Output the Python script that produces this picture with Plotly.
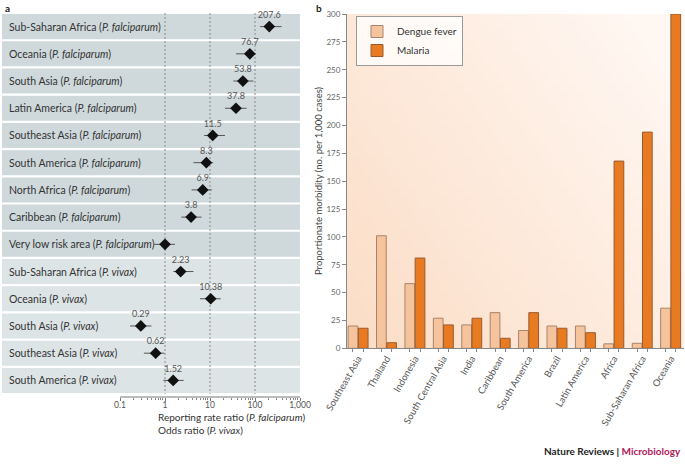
import math, zlib, struct, base64
import plotly.graph_objects as go

W, H = 685, 464

# ---------------- Panel a data ----------------
region_labels = [
    "Sub-Saharan Africa (<i>P. falciparum</i>)",
    "Oceania (<i>P. falciparum</i>)",
    "South Asia (<i>P. falciparum</i>)",
    "Latin America (<i>P. falciparum</i>)",
    "Southeast Asia (<i>P. falciparum</i>)",
    "South America (<i>P. falciparum</i>)",
    "North Africa (<i>P. falciparum</i>)",
    "Caribbean (<i>P. falciparum</i>)",
    "Very low risk area (<i>P. falciparum</i>)",
    "Sub-Saharan Africa (<i>P. vivax</i>)",
    "Oceania (<i>P. vivax</i>)",
    "South Asia (<i>P. vivax</i>)",
    "Southeast Asia (<i>P. vivax</i>)",
    "South America (<i>P. vivax</i>)",
]
ratio_values = [207.6, 76.7, 53.8, 37.8, 11.5, 8.3, 6.9, 3.8, 1.0, 2.23, 10.38, 0.29, 0.62, 1.52]
ratio_text = ["207.6", "76.7", "53.8", "37.8", "11.5", "8.3", "6.9", "3.8", "", "2.23", "10.38", "0.29", "0.62", "1.52"]
ci_lower = [129, 38, 33, 21.5, 7.4, 4.3, 3.9, 2.3, 0.57, 1.53, 6.0, 0.167, 0.34, 0.92]
ci_upper = [390, 105, 92, 65, 21.5, 11.8, 11.0, 6.5, 1.67, 4.3, 17.3, 0.5, 0.97, 2.6]
species = ["falciparum"] * 9 + ["vivax"] * 5
x_ticks_a = [0.1, 1, 10, 100, 1000]
x_ticktext_a = ["0.1", "1", "10", "100", "1,000"]
ref_lines = [1, 10, 100]

# ---------------- Panel b data ----------------
countries = ["Southeast Asia", "Thailand", "Indonesia", "South Central Asia", "India",
             "Caribbean", "South America", "Brazil", "Latin America", "Africa",
             "Sub-Saharan Africa", "Oceania"]
dengue = [20, 101, 58, 27, 21, 32, 16, 20, 20, 4, 4.5, 36]
malaria = [18, 5, 81, 21, 27, 9, 32, 18, 14, 168, 194, 300]
y_ticks_b = list(range(0, 301, 25))


def fx(px):
    return px / W


def fy(py):
    return 1 - py / H


# log axis range for panel a: 0.1 sits at px 120, one decade = 45 px, left edge px 2
xr0 = math.log10(0.1) - (120 - 2) / 45.0
xr1 = 3.0


def xfrac(v):
    return (math.log10(v) - xr0) / (xr1 - xr0)


minor_vals = [m * 10 ** e for e in range(-1, 3) for m in range(2, 10)]

fig = go.Figure()

fig.add_trace(go.Scatter(
    x=ratio_values, y=region_labels, mode="markers+text",
    text=ratio_text, textposition="top center",
    textfont=dict(size=9, color="#555"),
    marker=dict(symbol="diamond", size=9, color="#111"),
    error_x=dict(type="data", symmetric=False,
                 array=[u - v for u, v in zip(ci_upper, ratio_values)],
                 arrayminus=[v - l for v, l in zip(ratio_values, ci_lower)],
                 width=0, thickness=1, color="#555"),
    xaxis="x", yaxis="y", showlegend=False, cliponaxis=False, hoverinfo="x+y",
))

fig.add_trace(go.Bar(
    x=countries, y=dengue, name="Dengue fever",
    marker=dict(color="#f6c49c", line=dict(color="#a8836c", width=1)),
    xaxis="x2", yaxis="y2",
))
fig.add_trace(go.Bar(
    x=countries, y=malaria, name="Malaria",
    marker=dict(color="#e87a22", line=dict(color="#9b5a2e", width=1)),
    xaxis="x2", yaxis="y2",
))
# empty trace to carry the tick-mark overlay axis
fig.add_trace(go.Scatter(x=[], y=[], xaxis="x3", yaxis="y2", showlegend=False, hoverinfo="skip"))

shapes = []
for i, sp in enumerate(species):
    shapes.append(dict(type="rect", xref="x domain", yref="y", x0=0, x1=1,
                       y0=i - 0.5 + 0.04, y1=i + 0.5 - 0.04,
                       fillcolor="#cfd9dc" if sp == "falciparum" else "#dde4e6",
                       line=dict(width=0), layer="below"))
for v in ref_lines:
    f = xfrac(v)
    shapes.append(dict(type="line", xref="x domain", yref="y", x0=f, x1=f,
                       y0=-0.5, y1=len(region_labels) - 0.5,
                       line=dict(color="#8a8a8a", width=1, dash="2px,2px"), layer="below"))
shapes.append(dict(type="line", xref="x domain", yref="y domain", x0=xfrac(0.1), x1=1,
                   y0=0, y1=0, line=dict(color="#777", width=1)))


# gradient background image for panel b
def make_png(w, h, fn):
    raw = b""
    for r in range(h):
        row = bytearray([0])
        for c in range(w):
            row += bytes(fn(c / (w - 1), 1 - r / (h - 1)))
        raw += bytes(row)

    def chunk(t, d):
        c = struct.pack(">I", len(d)) + t + d
        return c + struct.pack(">I", zlib.crc32(t + d) & 0xffffffff)
    png = b"\x89PNG\r\n\x1a\n" + chunk(b"IHDR", struct.pack(">IIBBBBB", w, h, 8, 2, 0, 0, 0))
    png += chunk(b"IDAT", zlib.compress(raw)) + chunk(b"IEND", b"")
    return "data:image/png;base64," + base64.b64encode(png).decode()


c0 = (251, 221, 198)
c1 = (255, 247, 242)


def grad(u, v):
    t = min(1.0, max(0.0, 0.65 * u + 0.45 * v))
    return [int(round(a + (b - a) * t)) for a, b in zip(c0, c1)]


img = make_png(48, 32, grad)
bx0, bx1, by0, by1 = 347, 684, 14, 348.3

annotations = [
    dict(text="<b>a</b>", x=fx(3), y=fy(8), xref="paper", yref="paper",
         xanchor="left", yanchor="middle", showarrow=False, font=dict(size=10, color="#222")),
    dict(text="<b>b</b>", x=fx(314), y=fy(8), xref="paper", yref="paper",
         xanchor="left", yanchor="middle", showarrow=False, font=dict(size=10, color="#222")),
    dict(text="Reporting rate ratio (<i>P. falciparum</i>)<br>Odds ratio (<i>P. vivax</i>)",
         x=fx(156), y=fy(409), xref="paper", yref="paper", xanchor="left", yanchor="top",
         align="left", showarrow=False, font=dict(size=10, color="#333")),
    dict(text="Proportionate morbidity (no. per 1,000 cases)", textangle=-90,
         x=fx(318), y=fy(181), xref="paper", yref="paper", xanchor="center", yanchor="middle",
         showarrow=False, font=dict(size=9.5, color="#444")),
    dict(text="<b>Nature Reviews | <span style='color:#b3195d'>Microbiology</span></b>",
         x=fx(683), y=fy(451), xref="paper", yref="paper", xanchor="right", yanchor="middle",
         showarrow=False, font=dict(size=10, color="#222")),
]
for lab in region_labels:
    annotations.append(dict(text=lab, x=fx(7), y=lab, xref="paper", yref="y",
                            xanchor="left", yanchor="middle", showarrow=False,
                            font=dict(size=10.5, color="#333")))

group_w = 1 - 0.28
tick_marks = [i + s * group_w / 4 for i in range(len(countries)) for s in (-1, 1)]

fig.update_layout(
    width=W, height=H, margin=dict(l=0, r=0, t=0, b=0, autoexpand=False),
    paper_bgcolor="white", plot_bgcolor="rgba(0,0,0,0)",
    font=dict(family="Lato", color="#333"),
    barmode="group", bargap=0.28, bargroupgap=0.05,
    shapes=shapes, annotations=annotations,
    images=[dict(source=img, xref="paper", yref="paper", x=fx(bx0), y=fy(by0),
                 sizex=fx(bx1) - fx(bx0), sizey=fy(by0) - fy(by1), sizing="stretch",
                 xanchor="left", yanchor="top", layer="below")],
    xaxis=dict(type="log", range=[xr0, xr1], domain=[fx(2), fx(300)], anchor="y",
               automargin=False,
               tickvals=x_ticks_a, ticktext=x_ticktext_a, ticks="outside", ticklen=3,
               tickcolor="#777", tickfont=dict(size=8.5, color="#555"),
               ticklabelstandoff=-3,
               showgrid=False, zeroline=False, showline=False,
               minor=dict(tickvals=minor_vals, ticks="outside", ticklen=2,
                          tickcolor="#888", showgrid=False)),
    yaxis=dict(type="category", categoryorder="array", categoryarray=region_labels,
               range=[len(region_labels) - 0.5 + 0.11, -0.5], domain=[fy(397), fy(13)],
               anchor="x", automargin=False, ticks="", showticklabels=False,
               showgrid=False, zeroline=False, showline=False),
    xaxis2=dict(type="category", domain=[fx(bx0), fx(bx1)], anchor="y2", automargin=False,
                range=[-0.39, 11.47], tickangle=-60, ticks="",
                tickfont=dict(size=9.5, color="#555"),
                showline=True, linecolor="#888", linewidth=1, showgrid=False, zeroline=False),
    xaxis3=dict(overlaying="x2", anchor="y2", range=[-0.39, 11.47], automargin=False,
                tickvals=tick_marks, ticks="outside", ticklen=3, tickcolor="#888",
                showticklabels=False, showgrid=False, zeroline=False, showline=False),
    yaxis2=dict(domain=[fy(by1), fy(by0)], anchor="x2", range=[0, 300], automargin=False,
                tickvals=y_ticks_b, ticks="outside", ticklen=4, tickcolor="#888",
                tickfont=dict(size=8, color="#666"),
                showline=True, linecolor="#888", linewidth=1, showgrid=False, zeroline=False),
    legend=dict(x=fx(356), y=fy(16), xanchor="left", yanchor="top",
                bgcolor="rgba(255,255,255,0.75)", bordercolor="#999", borderwidth=1,
                font=dict(size=10, color="#333"), itemwidth=30, tracegroupgap=0),
)

fig.write_html("out.html", config={"displayModeBar": False},
               post_script="document.body.style.margin='0';document.body.style.overflow='hidden';")
